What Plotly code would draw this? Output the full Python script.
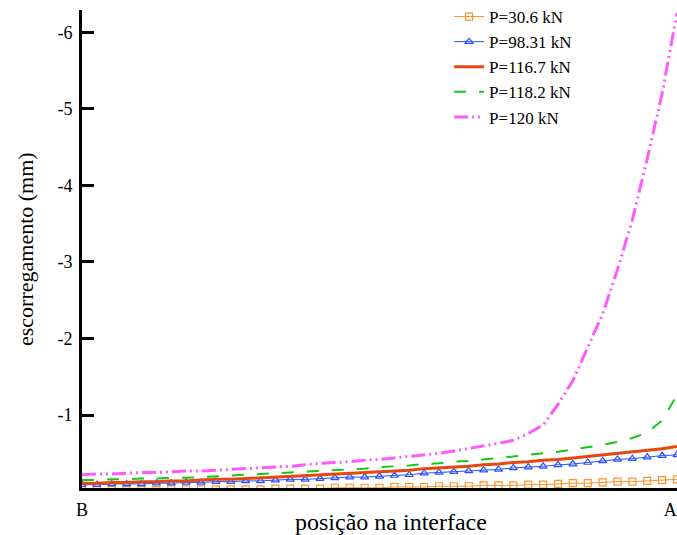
import plotly.graph_objects as go

# position along the interface, B (0) -> A (1)
posicao = [i * 0.025 for i in range(41)]

p30_6 = [-0.02, -0.02, -0.02, -0.02, -0.02, -0.02, -0.03, -0.03, -0.03, -0.03,
         -0.03, -0.03, -0.03, -0.04, -0.04, -0.04, -0.04, -0.05, -0.05, -0.05,
         -0.05, -0.06, -0.06, -0.06, -0.07, -0.07, -0.07, -0.08, -0.08, -0.08,
         -0.09, -0.09, -0.10, -0.11, -0.11, -0.12, -0.13, -0.13, -0.14, -0.15, -0.16]

p98_31 = [-0.09, -0.09, -0.10, -0.10, -0.10, -0.11, -0.11, -0.12, -0.12, -0.13,
          -0.13, -0.14, -0.14, -0.15, -0.16, -0.16, -0.17, -0.18, -0.19, -0.19,
          -0.20, -0.21, -0.22, -0.24, -0.25, -0.26, -0.27, -0.28, -0.29, -0.31,
          -0.32, -0.33, -0.35, -0.36, -0.38, -0.40, -0.42, -0.43, -0.45, -0.47, -0.48]

p116_7 = [-0.11, -0.11, -0.12, -0.12, -0.13, -0.13, -0.14, -0.14, -0.15, -0.16,
          -0.16, -0.17, -0.18, -0.19, -0.20, -0.21, -0.22, -0.23, -0.24, -0.25,
          -0.26, -0.27, -0.28, -0.30, -0.31, -0.32, -0.33, -0.35, -0.36, -0.38,
          -0.39, -0.41, -0.42, -0.44, -0.46, -0.48, -0.50, -0.52, -0.54, -0.56, -0.59]

p118_2 = [-0.15, -0.15, -0.16, -0.16, -0.17, -0.17, -0.18, -0.18, -0.19, -0.20,
          -0.21, -0.22, -0.23, -0.24, -0.25, -0.26, -0.27, -0.28, -0.29, -0.30,
          -0.32, -0.33, -0.34, -0.36, -0.37, -0.39, -0.40, -0.42, -0.44, -0.46,
          -0.48, -0.50, -0.52, -0.55, -0.58, -0.61, -0.65, -0.70, -0.77, -0.93, -1.26]

p120 = [-0.22, -0.23, -0.23, -0.24, -0.25, -0.25, -0.26, -0.27, -0.27, -0.28,
        -0.29, -0.30, -0.31, -0.32, -0.33, -0.35, -0.37, -0.38, -0.39, -0.41,
        -0.42, -0.44, -0.46, -0.48, -0.50, -0.53, -0.56, -0.60, -0.63, -0.67,
        -0.76, -0.87, -1.14, -1.45, -1.88, -2.32, -2.90, -3.55, -4.35, -5.20, -6.25]

y_ticks = [-6, -5, -4, -3, -2, -1]
x_tick_labels = ["B", "A\u00a0\u00a0\u00a0"]

FONT = "Liberation Serif, Times New Roman, serif"

fig = go.Figure()
fig.add_trace(go.Scatter(
    x=posicao, y=p30_6, name="P=30.6 kN", mode="lines+markers",
    line=dict(color="rgb(255,145,40)", width=1),
    marker=dict(symbol="square-open", size=7, color="rgb(255,145,40)", line=dict(width=1.2))))
fig.add_trace(go.Scatter(
    x=posicao, y=p98_31, name="P=98.31 kN", mode="lines+markers",
    line=dict(color="rgb(40,80,255)", width=1),
    marker=dict(symbol="triangle-up-open", size=7, color="rgb(40,80,255)", line=dict(width=1.2))))
fig.add_trace(go.Scatter(
    x=posicao, y=p116_7, name="P=116.7 kN", mode="lines",
    line=dict(color="rgb(232,70,15)", width=3)))
fig.add_trace(go.Scatter(
    x=posicao, y=p118_2, name="P=118.2 kN", mode="lines",
    line=dict(color="rgb(20,200,20)", width=2, dash="12px,13px")))
fig.add_trace(go.Scatter(
    x=posicao, y=p120, name="P=120 kN", mode="lines",
    line=dict(color="rgb(255,90,255)", width=3, dash="14px,4px,2px,4px,2px,4px")))

fig.update_layout(
    width=677, height=535,
    margin=dict(l=82, r=0, t=10, b=47, autoexpand=False),
    paper_bgcolor="white", plot_bgcolor="white",
    font=dict(family=FONT, color="black", size=17),
    showlegend=True,
    legend=dict(x=0.617, y=1.023, xanchor="left", yanchor="top",
                bgcolor="rgba(0,0,0,0)", font=dict(family=FONT, size=17),
                tracegroupgap=0),
    xaxis=dict(range=[0, 1], showgrid=False, zeroline=False, automargin=False,
               showline=True, linecolor="black", linewidth=3,
               tickvals=[0, 1], ticktext=x_tick_labels, ticks="",
               ticklabelstandoff=3, ticklabeloverflow="allow",
               tickfont=dict(size=18)),
    yaxis=dict(range=[-0.047, -6.29], showgrid=False, zeroline=False, automargin=False,
               showline=True, linecolor="black", linewidth=3,
               tickvals=y_ticks, ticktext=[str(v) for v in y_ticks],
               ticks="inside", ticklen=12, tickwidth=3, tickcolor="black",
               ticklabelstandoff=3, tickfont=dict(size=18)),
    annotations=[
        dict(text="posição na interface", xref="paper", yref="paper",
             x=0.52, y=0, xanchor="center", yanchor="middle", yshift=-34,
             showarrow=False, font=dict(family=FONT, size=24)),
        dict(text="escorregamento (mm)", xref="paper", yref="paper",
             x=0, y=0.5, xanchor="center", yanchor="middle", xshift=-57,
             textangle=-90, showarrow=False, font=dict(family=FONT, size=22)),
    ],
)

fig.write_html(
    "out.html",
    config={"displayModeBar": False},
    post_script="document.body.style.margin='0';document.body.style.overflow='hidden';",
)
